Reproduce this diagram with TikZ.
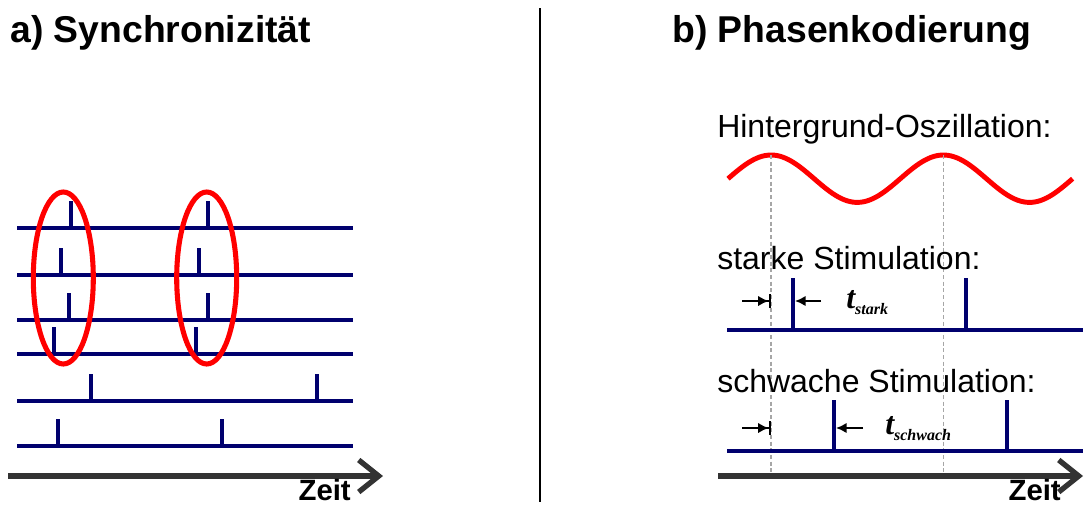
\documentclass[tikz,border=0pt]{standalone}
\usepackage{fontspec}
\setmainfont{Liberation Sans}
\newfontfamily\tfont{Liberation Serif}
\usetikzlibrary{arrows.meta,shapes.geometric}
\definecolor{spikeblue}{RGB}{0,0,110}
\definecolor{axisgray}{RGB}{51,51,51}
\begin{document}
\begin{tikzpicture}[x=0.75pt,y=-0.75pt,
  train/.style={spikeblue,line width=3pt},
  spike/.style={spikeblue,line width=3pt},
  grp/.style={ellipse,draw=red,line width=3.8pt,minimum width=45pt,minimum height=129pt,inner sep=0pt},
  timeaxis/.style={axisgray,line width=4pt,-{Straight Barb[length=15pt,width=24pt]}},
  guide/.style={gray!70,line width=1.1pt,dash pattern=on 3pt off 2pt},
  gap/.style={line width=1.7pt,-{Latex[length=8pt,width=8pt]Bar[width=10pt,line width=1.7pt]}},
  gapin/.style={line width=1.7pt,-{Latex[length=8pt,width=8pt]}},
  lbl/.style={font=\fontsize{24}{28}\selectfont,inner sep=0pt,anchor=base west},
  ttl/.style={font=\bfseries\fontsize{28}{32}\selectfont,inner sep=0pt,anchor=base west},
  zeit/.style={font=\bfseries\fontsize{22}{25}\selectfont,inner sep=0pt,anchor=base east},
  tval/.style={font=\tfont\bfseries\itshape\fontsize{24}{24}\selectfont,inner sep=0pt,anchor=base west}]
\useasboundingbox (0,0) rectangle (1084,507);
\node[ttl] (titleA) at (10,42) {a) Synchronizität};
\node[ttl] (titleB) at (672,42) {b) Phasenkodierung};
\draw[line width=0.8pt] (540,8) -- (540,502);
% a) Synchronizitaet
\foreach \y/\p/\q in {228/71/208, 275/61/199, 320/69/208, 354/54/196, 401/91/317, 446/58/222}{
  \draw[train] (17,\y) -- (353,\y);
  \draw[spike] (\p,\y) -- ++(0,-27);
  \draw[spike] (\q,\y) -- ++(0,-27);
}
\node[grp] (grpA) at (63.3,278) {};
\node[grp] (grpB) at (206.7,278) {};
\coordinate (axA0) at (8,476);
\coordinate (axA1) at (383,476);
\draw[timeaxis] (axA0) -- (axA1);
\node[zeit] (zeitA) at (351,500) {Zeit};
% b) Phasenkodierung
\node[lbl] (osc) at (717,137) {Hintergrund-Oszillation:};
\draw[red,line width=3.7pt] plot[domain=0:344.6,samples=120] ({728+\x},{178.7-23.7*sin(\x/172.3*360)});
\coordinate (axB0) at (718,476);
\coordinate (axB1) at (1083,476);
\foreach \x [count=\i] in {771,943.3}{
  \coordinate (pk\i) at (\x,155);
  \draw[guide] (pk\i) -- (pk\i |- axB0);
}
\node[lbl] (strong) at (717,269) {starke Stimulation:};
\draw[train] (727,330) -- (1083,330);
\draw[spike] (793,330) -- ++(0,-52);
\draw[spike] (966,330) -- ++(0,-52);
\coordinate (sA) at (742,301);
\coordinate (sB) at (821,301);
\draw[gap] (sA) -- (sA -| pk1);
\draw[gapin] (sB) -- (795,301);
\node[tval] (tstark) at (846,308) {t\raisebox{-5pt}{\fontsize{12}{12}\selectfont stark}};
\node[lbl] (weak) at (717,392) {schwache Stimulation:};
\draw[train] (727,451) -- (1083,451);
\draw[spike] (834,451) -- ++(0,-51);
\draw[spike] (1007,451) -- ++(0,-51);
\coordinate (wA) at (742,428);
\coordinate (wB) at (863,428);
\draw[gap] (wA) -- (wA -| pk1);
\draw[gapin] (wB) -- (836,428);
\node[tval] (tschwach) at (885,434) {t\raisebox{-5pt}{\fontsize{12}{12}\selectfont schwach}};
\draw[timeaxis] (axB0) -- (axB1);
\node[zeit] (zeitB) at (1061,500) {Zeit};
\end{tikzpicture}
\end{document}
